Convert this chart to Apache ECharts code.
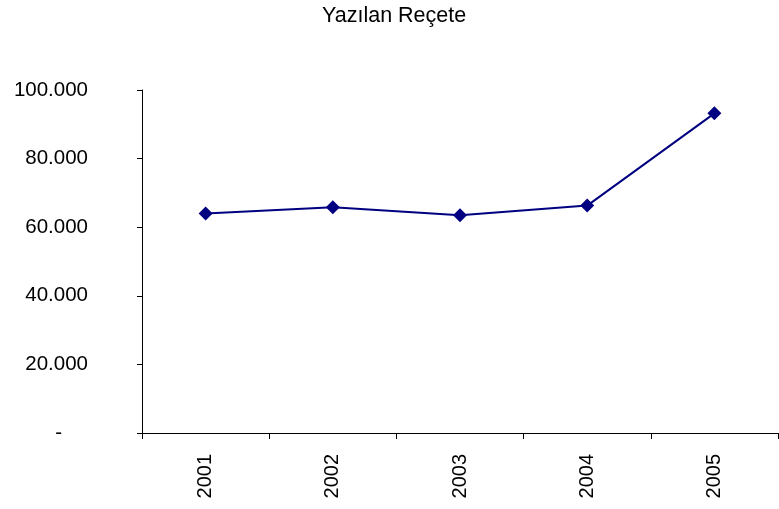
<!DOCTYPE html>
<html>
<head>
<meta charset="utf-8">
<script src="https://cdn.jsdelivr.net/npm/echarts@6/dist/echarts.min.js"></script>
<style>
html,body{margin:0;padding:0;background:#fff;}
#c{width:779px;height:509px;}
</style>
</head>
<body>
<div id="c"></div>
<script>
const titleText = 'Yazılan Reçete';
const categories = ['2001', '2002', '2003', '2004', '2005'];
const values = [64000, 65800, 63500, 66300, 93200];
const yTicks = [0, 20000, 40000, 60000, 80000, 100000];

const FF = 'Liberation Sans, Arial, sans-serif';
function fmt(v) {
  if (v === 0) return '{d|-}';
  return String(v).replace(/\B(?=(\d{3})+(?!\d))/g, '.');
}

const chart = echarts.init(document.getElementById('c'), null, {renderer: 'canvas'});
chart.setOption({
  animation: false,
  backgroundColor: '#fff',
  textStyle: {fontFamily: FF},
  graphic: [{
    type: 'text',
    left: 322, top: 5,
    style: {text: titleText, fontFamily: FF, fontSize: 21.5, fill: '#000'}
  }],
  grid: {left: 142, right: 1, top: 90, bottom: 76, containLabel: false},
  xAxis: {
    type: 'category',
    data: categories,
    boundaryGap: true,
    axisLine: {lineStyle: {color: '#000', width: 1}},
    axisTick: {show: true, length: 6, lineStyle: {color: '#000'}},
    axisLabel: {rotate: 90, margin: 21, fontSize: 20, color: '#000', fontFamily: FF}
  },
  yAxis: {
    type: 'value',
    min: yTicks[0], max: yTicks[yTicks.length - 1], interval: yTicks[1] - yTicks[0],
    axisLine: {show: true, lineStyle: {color: '#000', width: 1}},
    axisTick: {show: true, length: 5, lineStyle: {color: '#000'}},
    splitLine: {show: false},
    axisLabel: {
      margin: 54, fontSize: 20.5, color: '#000', fontFamily: FF,
      formatter: fmt,
      rich: {d: {fontSize: 20.5, color: '#000', padding: [0, 26, 0, 0], fontFamily: FF}}
    }
  },
  series: [{
    type: 'line',
    data: values,
    symbol: 'diamond',
    symbolSize: 14,
    lineStyle: {color: '#000080', width: 2},
    itemStyle: {color: '#000080'}
  }]
});
</script>
</body>
</html>
